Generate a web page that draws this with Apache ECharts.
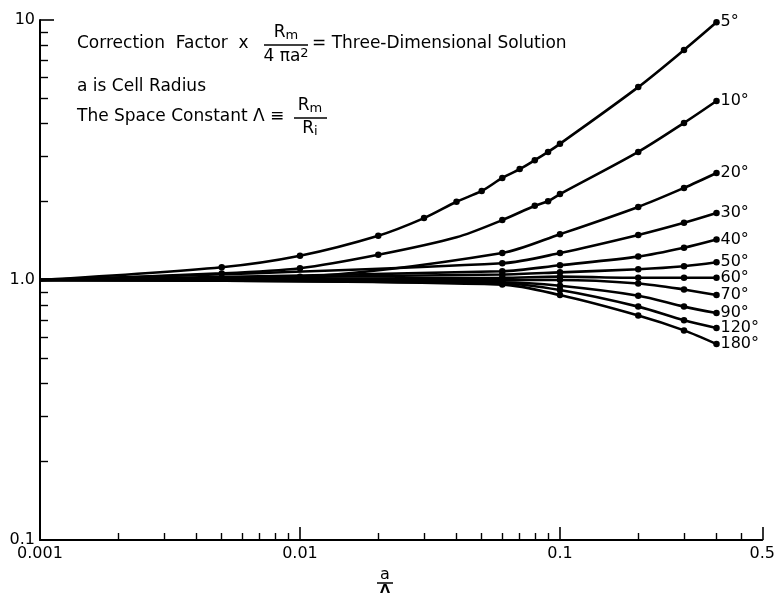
<!DOCTYPE html>
<html>
<head>
<meta charset="utf-8">
<script src="https://cdn.jsdelivr.net/npm/echarts@6/dist/echarts.min.js"></script>
<style>
html,body{margin:0;padding:0;background:#fff;}
#c{width:778px;height:599px;}
</style>
</head>
<body>
<div id="c"></div>
<script>
// ---- data ----
const seriesNames = ['5°','10°','20°','30°','40°','50°','60°','70°','90°','120°','180°'];

const x5  = [0.001,0.005,0.01,0.02,0.03,0.04,0.05,0.06,0.07,0.08,0.09,0.1,0.2,0.3,0.4];
const y5  = [1.0,1.12,1.24,1.48,1.73,2.0,2.2,2.47,2.67,2.89,3.11,3.34,5.52,7.67,9.8];
const x10 = [0.001,0.005,0.01,0.02,0.04,0.06,0.08,0.09,0.1,0.2,0.3,0.4];
const y10 = [1.0,1.06,1.11,1.25,1.46,1.70,1.93,2.01,2.14,3.11,4.02,4.88];
const x20 = [0.001,0.01,0.06,0.1,0.2,0.3,0.4];
const y20 = [1.0,1.03,1.27,1.50,1.91,2.26,2.58];
const xMid = [0.001,0.06,0.1,0.2,0.3,0.4];
const y30  = [1.0,1.16,1.27,1.49,1.66,1.81];
const y40  = [1.0,1.08,1.14,1.23,1.33,1.43];
const y50  = [1.0,1.05,1.07,1.10,1.13,1.17];
const y60  = [1.0,1.02,1.03,1.02,1.02,1.02];
const y70  = [1.0,1.0,1.0,0.97,0.92,0.875];
const y90  = [1.0,0.98,0.95,0.87,0.79,0.746];
const y120 = [1.0,0.97,0.915,0.79,0.70,0.654];
const y180 = [1.0,0.96,0.875,0.73,0.64,0.567];
// readings on the curves that carry no dot in the reference
const noDotX = [0.001, 0.04];
const noDotSeries10 = [0.001, 0.04];

const seriesX = [x5,x10,x20,xMid,xMid,xMid,xMid,xMid,xMid,xMid,xMid];
const seriesY = [y5,y10,y20,y30,y40,y50,y60,y70,y90,y120,y180];

// axis ticks
const xMajor = [0.001,0.01,0.1,0.6];
const xMinor = [0.002,0.003,0.004,0.005,0.006,0.007,0.008,0.009,
                0.02,0.03,0.04,0.05,0.06,0.07,0.08,0.09,
                0.2,0.3,0.4,0.5];
const xLabelText = {0.001:'0.001',0.01:'0.01',0.1:'0.1',0.6:'0.5'};
const yMajor = [0.1,1,10];
const yMinor = [0.2,0.3,0.4,0.5,0.6,0.7,0.8,0.9,2,3,4,5,6,7,8,9];
const yLabelText = {0.1:'0.1',1:'1.0',10:'10'};

const FONT = 'DejaVu Sans';

const chart = echarts.init(document.getElementById('c'), null, {renderer:'canvas'});

function mkData(xs, ys, hidden){
  return xs.map((x,i)=> hidden.indexOf(x) >= 0 ? {value:[x,ys[i]], symbol:'none'} : [x,ys[i]]);
}

const series = seriesNames.map((n,k)=>({
  name:n, type:'line', xAxisIndex:0, yAxisIndex:0,
  data: mkData(seriesX[k], seriesY[k], k===1 ? noDotSeries10 : [0.001]),
  smooth:0.3,
  symbol:'circle', symbolSize:6.5,
  itemStyle:{color:'#000'},
  lineStyle:{color:'#000', width:2.6},
  endLabel:{show:true, formatter:'{a}', color:'#000', fontFamily:FONT, fontSize:16, distance:4},
  z:3
}));

const axisLineStyle = {show:true, lineStyle:{color:'#000', width:2}};
const F17 = '17px "'+FONT+'"';

const option = {
  animation:false,
  backgroundColor:'#fff',
  grid:{left:40, right:10, top:20, bottom:59, containLabel:false},
  xAxis:[
    {type:'log', logBase:10, min:0.001, max:0.6, position:'bottom',
     axisLine:axisLineStyle,
     axisTick:{show:true, inside:true, length:13, lineStyle:{color:'#000', width:1.6}, customValues:xMajor},
     axisLabel:{show:true, customValues:xMajor, color:'#000', fontFamily:FONT, fontSize:16, margin:6,
                formatter:v=>xLabelText[v] !== undefined ? xLabelText[v] : ''},
     splitLine:{show:false}, minorTick:{show:false}},
    {type:'log', logBase:10, min:0.001, max:0.6, position:'bottom',
     axisLine:{show:false},
     axisTick:{show:true, inside:true, length:7, lineStyle:{color:'#000', width:1.4}, customValues:xMinor},
     axisLabel:{show:false},
     splitLine:{show:false}}
  ],
  yAxis:[
    {type:'log', logBase:10, min:0.1, max:10, position:'left',
     axisLine:axisLineStyle,
     axisTick:{show:true, inside:true, length:14, lineStyle:{color:'#000', width:1.6}, customValues:yMajor},
     axisLabel:{show:true, customValues:yMajor, color:'#000', fontFamily:FONT, fontSize:16, margin:5,
                formatter:v=>yLabelText[v] !== undefined ? yLabelText[v] : ''},
     splitLine:{show:false}, minorTick:{show:false}},
    {type:'log', logBase:10, min:0.1, max:10, position:'left',
     axisLine:{show:false},
     axisTick:{show:true, inside:true, length:8, lineStyle:{color:'#000', width:1.4}, customValues:yMinor},
     axisLabel:{show:false},
     splitLine:{show:false}}
  ],
  series: series,
  graphic:[
    {type:'text', left:77, top:35, style:{text:'Correction  Factor  x', fill:'#000', font:F17}},
    {type:'text', x:286, y:33, style:{text:'{r|R}{s|m}', align:'center', verticalAlign:'middle', fill:'#000',
      rich:{r:{fontFamily:FONT, fontSize:17, fill:'#000'}, s:{fontFamily:FONT, fontSize:13, fill:'#000', padding:[6,0,0,0]}}}},
    {type:'line', shape:{x1:264, y1:45, x2:308, y2:45}, style:{stroke:'#000', lineWidth:1.5}},
    {type:'text', x:286, y:57, style:{text:'4 πa{p|2}', align:'center', verticalAlign:'middle', fill:'#000',
      font:F17, rich:{p:{fontFamily:FONT, fontSize:13, padding:[0,0,6,0]}}}},
    {type:'text', left:312, top:35, style:{text:'= Three-Dimensional Solution', fill:'#000', font:F17}},
    {type:'text', left:77, top:78, style:{text:'a is Cell Radius', fill:'#000', font:F17}},
    {type:'text', left:77, top:108, style:{text:'The Space Constant Λ ≡', fill:'#000', font:F17}},
    {type:'text', x:310, y:106, style:{text:'{r|R}{s|m}', align:'center', verticalAlign:'middle', fill:'#000',
      rich:{r:{fontFamily:FONT, fontSize:17}, s:{fontFamily:FONT, fontSize:13, padding:[6,0,0,0]}}}},
    {type:'line', shape:{x1:294, y1:118, x2:327, y2:118}, style:{stroke:'#000', lineWidth:1.5}},
    {type:'text', x:310, y:129, style:{text:'{r|R}{s|i}', align:'center', verticalAlign:'middle', fill:'#000',
      rich:{r:{fontFamily:FONT, fontSize:17}, s:{fontFamily:FONT, fontSize:13, padding:[6,0,0,0]}}}},
    {type:'text', x:385, y:575, style:{text:'a', align:'center', verticalAlign:'middle', fill:'#000', font:'16px "'+FONT+'"'}},
    {type:'line', shape:{x1:377, y1:583, x2:393, y2:583}, style:{stroke:'#000', lineWidth:1.5}},
    {type:'text', x:385, y:590, style:{text:'Λ', align:'center', verticalAlign:'middle', fill:'#000', font:'bold 13px "'+FONT+'"'}}
  ]
};
chart.setOption(option);
</script>
</body>
</html>
